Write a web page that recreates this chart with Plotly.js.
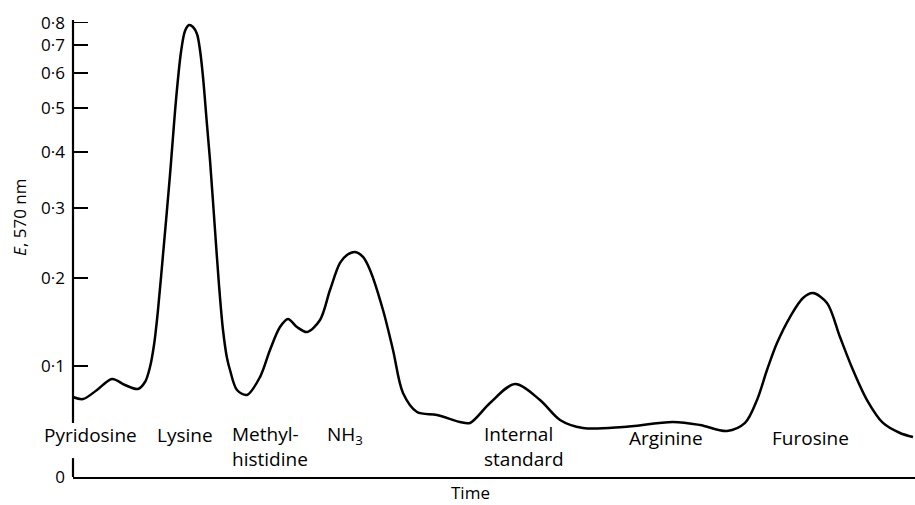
<!DOCTYPE html>
<html>
<head>
<meta charset="utf-8">
<script src="https://cdn.plot.ly/plotly-3.0.1.min.js"></script>
<style>html,body{margin:0;padding:0;background:#fff;}#chart{width:915px;height:505px;}</style>
</head>
<body>
<div id="chart"></div>
<script>
// Time (arbitrary units) and absorbance E at 570 nm
var time = [0, 10, 24, 39, 52, 65, 72, 77, 81, 85, 90, 97, 103, 108, 112, 116, 120, 124, 127, 130, 134, 137, 142, 146, 150, 154, 157, 164, 174, 187, 197, 207, 215, 224, 234, 247, 257, 267, 274, 282, 290, 297, 310, 320, 330, 344, 364, 387, 397, 417, 442, 467, 487, 510, 550, 600, 627, 654, 672, 684, 694, 704, 717, 730, 740, 754, 767, 780, 794, 810, 827, 840];
var absorbance = [0.0696, 0.0677, 0.0763, 0.0870, 0.0811, 0.0773, 0.0840, 0.0989, 0.1217, 0.1607, 0.2300, 0.3559, 0.5201, 0.6716, 0.7592, 0.7878, 0.7782, 0.7457, 0.6792, 0.5863, 0.4583, 0.3840, 0.2655, 0.1908, 0.1380, 0.1081, 0.0959, 0.0763, 0.0716, 0.0889, 0.1165, 0.1413, 0.1503, 0.1413, 0.1358, 0.1492, 0.1846, 0.2192, 0.2300, 0.2341, 0.2273, 0.2100, 0.1607, 0.1165, 0.0734, 0.0557, 0.0530, 0.0467, 0.0458, 0.0640, 0.0821, 0.0668, 0.0485, 0.0413, 0.0422, 0.0467, 0.0440, 0.0387, 0.0458, 0.0668, 0.0959, 0.1238, 0.1526, 0.1749, 0.1809, 0.1689, 0.1303, 0.0959, 0.0668, 0.0458, 0.0369, 0.0334];

// y tick values (E) and labels
var eTicks = [0, 0.1, 0.2, 0.3, 0.4, 0.5, 0.6, 0.7, 0.8];
var eTickText = ['0', '0·1', '0·2', '0·3', '0·4', '0·5', '0·6', '0·7', '0·8'];

// peak labels and their left positions in time units
var peakLabels = ['Pyridosine', 'Lysine', 'Methyl-<br>histidine', 'NH<sub>3</sub>', 'Internal<br>standard', 'Arginine', 'Furosine'];
var peakLabelTime = [-31, 82, 157, 252, 409, 554, 697];

// the axis is linear in (1 - transmittance), T = 10^-E
function scaleE(e) { return 1 - Math.pow(10, -e); }

var tMax = 842;
var yTop = 457 / 540;
var FONT = 'Open Sans, Lato, sans-serif';
var labelY = [0.092, 0.092, 0.0667, 0.092, 0.0667, 0.086, 0.086];
var annotations = [];
for (var i = 0; i < peakLabels.length; i++) {
  annotations.push({x: peakLabelTime[i] / tMax, y: labelY[i], xref: 'paper', yref: 'paper', xanchor: 'left', yanchor: 'middle',
    align: 'left', text: peakLabels[i], showarrow: false, font: {size: 19, color: '#000', family: FONT}});
}
annotations.push({x: 0.4715, y: -0.033, xref: 'paper', yref: 'paper', xanchor: 'center', yanchor: 'middle',
  text: 'Time', showarrow: false, font: {size: 17, color: '#000', family: FONT}});
annotations.push({x: -0.063, y: 0.569, xref: 'paper', yref: 'paper', xanchor: 'center', yanchor: 'middle', textangle: -90,
  text: '<i>E</i>, 570 nm', showarrow: false, font: {size: 17, color: '#000', family: FONT}});

var trace = {
  x: time,
  y: absorbance.map(scaleE),
  type: 'scatter',
  mode: 'lines',
  line: {color: '#000', width: 2.5, shape: 'spline', smoothing: 0.9},
  hoverinfo: 'skip'
};

var layout = {
  width: 915, height: 505,
  margin: {l: 73, r: 0, t: 20, b: 28},
  paper_bgcolor: '#fff', plot_bgcolor: '#fff',
  showlegend: false,
  xaxis: {range: [0, tMax], showgrid: false, zeroline: false, showline: true, linecolor: '#000', linewidth: 1.8,
    ticks: '', showticklabels: false, fixedrange: true},
  yaxis: {range: [0, yTop], showgrid: false, zeroline: false, showline: false,
    tickmode: 'array', tickvals: eTicks.map(scaleE), ticktext: eTickText,
    ticks: 'inside', ticklen: 15, tickwidth: 1.8, tickcolor: '#000', ticklabelstandoff: 7,
    tickfont: {size: 17, color: '#000', family: FONT}, fixedrange: true},
  shapes: [
    {type: 'line', xref: 'paper', yref: 'y', x0: 0, x1: 0, y0: 0, y1: 0.035, line: {color: '#000', width: 2.2}},
    {type: 'line', xref: 'paper', yref: 'y', x0: 0, x1: 0, y0: 0.1, y1: yTop, line: {color: '#000', width: 2.2}}
  ],
  annotations: annotations
};

Plotly.newPlot('chart', [trace], layout, {displayModeBar: false, staticPlot: true});
</script>
</body>
</html>
